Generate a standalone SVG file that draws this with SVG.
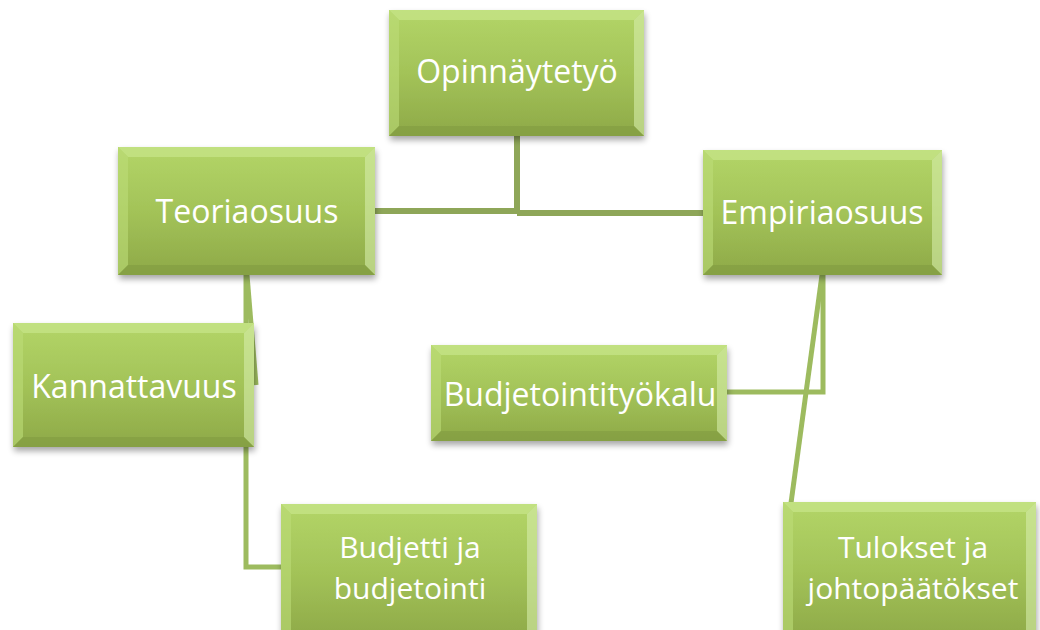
<svg xmlns="http://www.w3.org/2000/svg" width="1040" height="630" viewBox="0 0 1040 630">
<defs>
<linearGradient id="g" x1="0" y1="0" x2="0" y2="1">
<stop offset="0" stop-color="#b3d568"/>
<stop offset="0.5" stop-color="#a3c358"/>
<stop offset="1" stop-color="#8ea948"/>
</linearGradient>
<filter id="sh" x="-10%" y="-10%" width="130%" height="130%">
<feGaussianBlur in="SourceAlpha" stdDeviation="3"/>
<feOffset dx="1" dy="4" result="b"/>
<feComponentTransfer><feFuncA type="linear" slope="0.35"/></feComponentTransfer>
<feMerge><feMergeNode/><feMergeNode in="SourceGraphic"/></feMerge>
</filter>
</defs>
<style>
.box{fill:url(#g);filter:url(#sh)}
.bt{fill:#c8e68a;opacity:0.7}
.bl{fill:#bcdc78;opacity:0.6}
.br{fill:#d6ecaa;opacity:0.6}
.bb{fill:#7e983f;opacity:0.5}
.lbl{font-family:"Open Sans","Liberation Sans",Arial,sans-serif;font-size:32px;fill:#ffffff;text-anchor:middle}
.lbl2{font-family:"Open Sans","Liberation Sans",Arial,sans-serif;font-size:30px;fill:#ffffff;text-anchor:middle}
.c{fill:none;stroke:#9dbb5f;stroke-width:5;stroke-linejoin:miter}
.c2{fill:none;stroke:#8ea658;stroke-width:6}
</style>
<g id="connectors">
<path class="c2" d="M517,136 V212"/>
<path class="c2" d="M375,211 H517"/>
<path class="c2" d="M517,213 H703"/>
<path class="c" d="M246,275 V323"/>
<path class="c" d="M247,275 L256,385"/>
<path class="c" d="M246,447 V567 H281"/>
<path class="c" d="M823,275 V392 H727"/>
<path class="c" d="M822,275 L791,503"/>
</g>
<g id="node-opinnaytetyo">
<rect class="box" x="389" y="10" width="255" height="126"/>
<polygon class="bt" points="389,10 644,10 634,20 399,20"/>
<polygon class="bl" points="389,10 399,20 399,126 389,136"/>
<polygon class="br" points="644,10 644,136 634,126 634,20"/>
<polygon class="bb" points="389,136 644,136 634,126 399,126"/>
<text class="lbl" x="517" y="83">Opinnäytetyö</text>
</g>
<g id="node-teoriaosuus">
<rect class="box" x="118" y="147" width="257" height="128"/>
<polygon class="bt" points="118,147 375,147 365,157 128,157"/>
<polygon class="bl" points="118,147 128,157 128,265 118,275"/>
<polygon class="br" points="375,147 375,275 365,265 365,157"/>
<polygon class="bb" points="118,275 375,275 365,265 128,265"/>
<text class="lbl" x="247" y="223">Teoriaosuus</text>
</g>
<g id="node-empiriaosuus">
<rect class="box" x="703" y="150" width="239" height="125"/>
<polygon class="bt" points="703,150 942,150 932,160 713,160"/>
<polygon class="bl" points="703,150 713,160 713,265 703,275"/>
<polygon class="br" points="942,150 942,275 932,265 932,160"/>
<polygon class="bb" points="703,275 942,275 932,265 713,265"/>
<text class="lbl" x="822" y="224">Empiriaosuus</text>
</g>
<g id="node-kannattavuus">
<rect class="box" x="13" y="323" width="241" height="124"/>
<polygon class="bt" points="13,323 254,323 244,333 23,333"/>
<polygon class="bl" points="13,323 23,333 23,437 13,447"/>
<polygon class="br" points="254,323 254,447 244,437 244,333"/>
<polygon class="bb" points="13,447 254,447 244,437 23,437"/>
<text class="lbl" x="134" y="398">Kannattavuus</text>
</g>
<g id="node-budjetointityokalu">
<rect class="box" x="431" y="345" width="296" height="96"/>
<polygon class="bt" points="431,345 727,345 717,355 441,355"/>
<polygon class="bl" points="431,345 441,355 441,431 431,441"/>
<polygon class="br" points="727,345 727,441 717,431 717,355"/>
<polygon class="bb" points="431,441 727,441 717,431 441,431"/>
<text class="lbl" x="580" y="406">Budjetointityökalu</text>
</g>
<g id="node-budjetti">
<rect class="box" x="281" y="504" width="256" height="136"/>
<polygon class="bt" points="281,504 537,504 527,514 291,514"/>
<polygon class="bl" points="281,504 291,514 291,640 281,640"/>
<polygon class="br" points="537,504 537,640 527,640 527,514"/>
<text class="lbl2" x="410" y="558">Budjetti ja</text>
<text class="lbl2" x="410" y="599">budjetointi</text>
</g>
<g id="node-tulokset">
<rect class="box" x="783" y="502" width="253" height="138"/>
<polygon class="bt" points="783,502 1036,502 1026,512 793,512"/>
<polygon class="bl" points="783,502 793,512 793,640 783,640"/>
<polygon class="br" points="1036,502 1036,640 1026,640 1026,512"/>
<text class="lbl2" x="913" y="558">Tulokset ja</text>
<text class="lbl2" x="913" y="599">johtopäätökset</text>
</g>
</svg>
